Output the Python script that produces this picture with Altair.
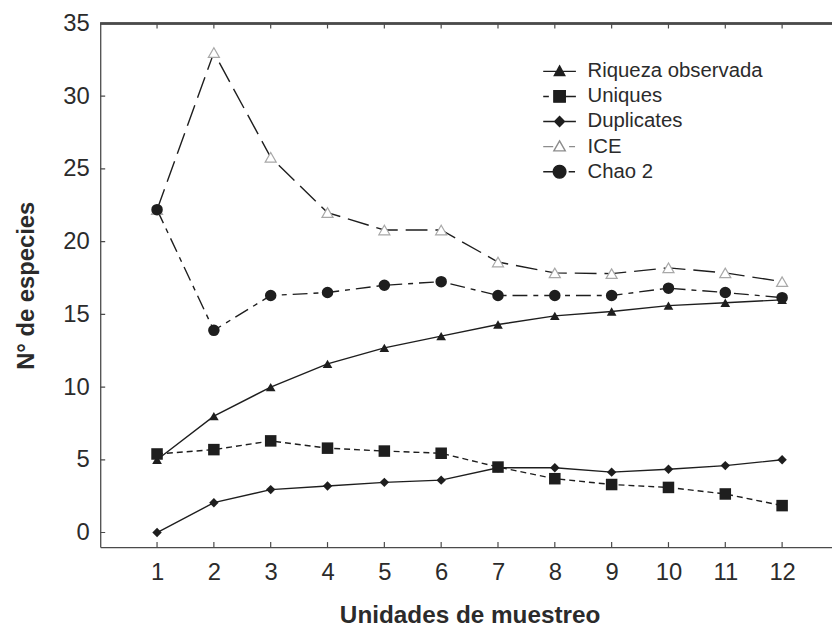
import math
import altair as alt
import pandas as pd

# ---------------- data ----------------
unidades = list(range(1, 13))
riqueza = [5.0, 8.0, 10.0, 11.6, 12.7, 13.5, 14.3, 14.9, 15.2, 15.6, 15.8, 16.0]
uniques = [5.4, 5.7, 6.3, 5.8, 5.6, 5.45, 4.5, 3.7, 3.3, 3.1, 2.65, 1.85]
duplicates = [0.0, 2.05, 2.95, 3.2, 3.45, 3.6, 4.45, 4.45, 4.15, 4.35, 4.6, 5.0]
ice = [22.2, 33.0, 25.8, 22.0, 20.8, 20.8, 18.6, 17.85, 17.8, 18.2, 17.85, 17.25]
chao2 = [22.2, 13.9, 16.3, 16.5, 17.0, 17.25, 16.3, 16.3, 16.3, 16.8, 16.5, 16.15]
series = ["Riqueza observada", "Uniques", "Duplicates", "ICE", "Chao 2"]
y_ticks = [0, 5, 10, 15, 20, 25, 30, 35]

values = {
    "Riqueza observada": riqueza,
    "Uniques": uniques,
    "Duplicates": duplicates,
    "ICE": ice,
    "Chao 2": chao2,
}
rows = []
for s in series:
    for u, v in zip(unidades, values[s]):
        rows.append({"serie": s, "unidad": u, "valor": v})
df = pd.DataFrame(rows)
df_xt = pd.DataFrame({"unidad": unidades})
df_yt = pd.DataFrame({"valor": y_ticks})

# ---------------- style ----------------
FONT = "Liberation Sans"
INK = "#1e1e1e"
TXT = "#2b2b2b"
FRAME = "#4a4a4a"
ICE_STROKE = "#a8a8a8"
# the plot frame of the original runs past the right edge of the picture
W, H = 745, 528
X_DOMAIN = [0, 13.0]
Y_DOMAIN = [-1, 35]

xs = alt.Scale(domain=X_DOMAIN, nice=False, zero=False)
ys = alt.Scale(domain=Y_DOMAIN, nice=False, zero=False)

x_main = alt.Axis(orient="bottom", values=unidades, title="Unidades de muestreo", ticks=False, tickSize=0,
                  labels=True, labelPadding=14, labelFontSize=24, labelFont=FONT, labelColor=TXT,
                  titleFont=FONT, titleFontSize=24.5, titleFontWeight="bold", titleColor=TXT,
                  titlePadding=19, domain=True, domainColor=FRAME, domainWidth=1.3, grid=False,
                  labelFlush=False, format="d")
y_main = alt.Axis(orient="left", values=y_ticks, title="N° de especies", ticks=False, tickSize=0,
                  labels=True, labelPadding=11, labelFontSize=24, labelFont=FONT, labelColor=TXT,
                  titleFont=FONT, titleFontSize=24, titleFontWeight="bold", titleColor=TXT,
                  titlePadding=25, domain=True, domainColor=FRAME, domainWidth=1.3, grid=False,
                  labelFlush=False)

base = alt.Chart(df)


def line_layer(name, dash, x_axis=None, y_axis=None):
    kw = dict(color=INK, strokeWidth=1.4)
    if dash:
        kw["strokeDash"] = dash
    return base.transform_filter(alt.datum.serie == name).mark_line(**kw).encode(
        x=alt.X("unidad:Q", scale=xs, axis=x_axis),
        y=alt.Y("valor:Q", scale=ys, axis=y_axis),
    )


def point_layer(name, **mark):
    return base.transform_filter(alt.datum.serie == name).mark_point(**mark).encode(
        x=alt.X("unidad:Q", scale=xs, axis=None),
        y=alt.Y("valor:Q", scale=ys, axis=None),
    )


# frame: top border and inward ticks (ticks centred on the edges, clipped to the plot)
top_border = alt.Chart(df_yt).mark_rule(color=FRAME, strokeWidth=1.3).encode(
    y=alt.YDatum(Y_DOMAIN[1], scale=ys, axis=None),
)
ticks_bottom = alt.Chart(df_xt).mark_tick(orient="vertical", size=10, thickness=1.2,
                                          color=FRAME, opacity=1, clip=True).encode(
    x=alt.X("unidad:Q", scale=xs, axis=None),
    y=alt.YDatum(Y_DOMAIN[0], scale=ys, axis=None),
)
ticks_top = alt.Chart(df_xt).mark_tick(orient="vertical", size=10, thickness=1.2,
                                       color=FRAME, opacity=1, clip=True).encode(
    x=alt.X("unidad:Q", scale=xs, axis=None),
    y=alt.YDatum(Y_DOMAIN[1], scale=ys, axis=None),
)
ticks_left = alt.Chart(df_yt).mark_tick(orient="horizontal", size=10, thickness=1.2,
                                        color=FRAME, opacity=1, clip=True).encode(
    x=alt.XDatum(X_DOMAIN[0], scale=xs, axis=None),
    y=alt.Y("valor:Q", scale=ys, axis=None),
)

lines = [
    line_layer("Riqueza observada", None, x_main, y_main),
    line_layer("Uniques", [6, 4]),
    line_layer("Duplicates", None),
    line_layer("ICE", [22, 8]),
    line_layer("Chao 2", [15, 6, 5, 6]),
]
points = [
    point_layer("Riqueza observada", shape="triangle-up", filled=True, color=INK, size=95, opacity=1),
    point_layer("Uniques", shape="square", filled=True, color=INK, size=135, opacity=1),
    point_layer("Duplicates", shape="diamond", filled=True, color=INK, size=90, opacity=1),
    point_layer("ICE", shape="triangle-up", filled=True, fill="white", stroke=ICE_STROKE,
                strokeWidth=1.2, size=125, opacity=1),
    point_layer("Chao 2", shape="circle", filled=True, color=INK, size=135, opacity=1),
]


# legend symbols: line pieces + marker, unit = sqrt(size)/2 px
def circle_path(r, n=20):
    pts = [(r * math.cos(2 * math.pi * k / n), r * math.sin(2 * math.pi * k / n)) for k in range(n)]
    return "M" + "L".join(f"{x:.3f},{y:.3f}" for x, y in pts) + "Z"


legend_paths = [
    "M-2.06,0L2.06,0M0,-0.68L0.66,0.52L-0.66,0.52Z",
    "M-2.06,0L-1.35,0M-0.72,-0.72L0.72,-0.72L0.72,0.72L-0.72,0.72ZM0.72,0L2.06,0",
    "M-2.06,0L2.06,0M0,-0.62L0.62,0L0,0.62L-0.62,0Z",
    "M-2.06,0L-0.8,0M0,-0.72L0.72,0.54L-0.72,0.54ZM1.2,0L1.95,0",
    "M-2.06,0L-0.8,0" + circle_path(0.8) + "M1.15,0L1.95,0",
]
legend_fills = [INK, INK, INK, "white", INK]
legend_strokes = [INK, INK, INK, "#8c8c8c", INK]


def mk_legend():
    return alt.Legend(title=None, orient="none", legendX=453, legendY=38,
                      symbolSize=256, symbolStrokeWidth=1.4, labelFontSize=20.5,
                      labelFont=FONT, labelColor=TXT, labelOffset=18, rowPadding=4.3,
                      padding=0, labelLimit=400)


legend_layer = base.transform_filter("false").mark_point(filled=True, strokeWidth=1.4, opacity=1).encode(
    shape=alt.Shape("serie:N", scale=alt.Scale(domain=series, range=legend_paths), legend=mk_legend()),
    fill=alt.Fill("serie:N", scale=alt.Scale(domain=series, range=legend_fills), legend=mk_legend()),
    stroke=alt.Stroke("serie:N", scale=alt.Scale(domain=series, range=legend_strokes), legend=mk_legend()),
)

chart = alt.layer(
    top_border, ticks_bottom, ticks_top, ticks_left, *lines, *points, legend_layer
).resolve_axis(x="independent", y="independent").resolve_scale(x="shared", y="shared").properties(
    width=W,
    height=H,
    autosize=alt.AutoSizeParams(type="none"),
    padding={"left": 93, "top": 13, "right": -7, "bottom": 79},
    background="white",
).configure_view(
    strokeWidth=0, strokeOpacity=0
).configure_axis(
    # any axis that is not explicitly styled above stays invisible
    domain=False, ticks=False, labels=False, grid=False
)

chart.save("out.html", embed_options={"renderer": "svg", "actions": False})
